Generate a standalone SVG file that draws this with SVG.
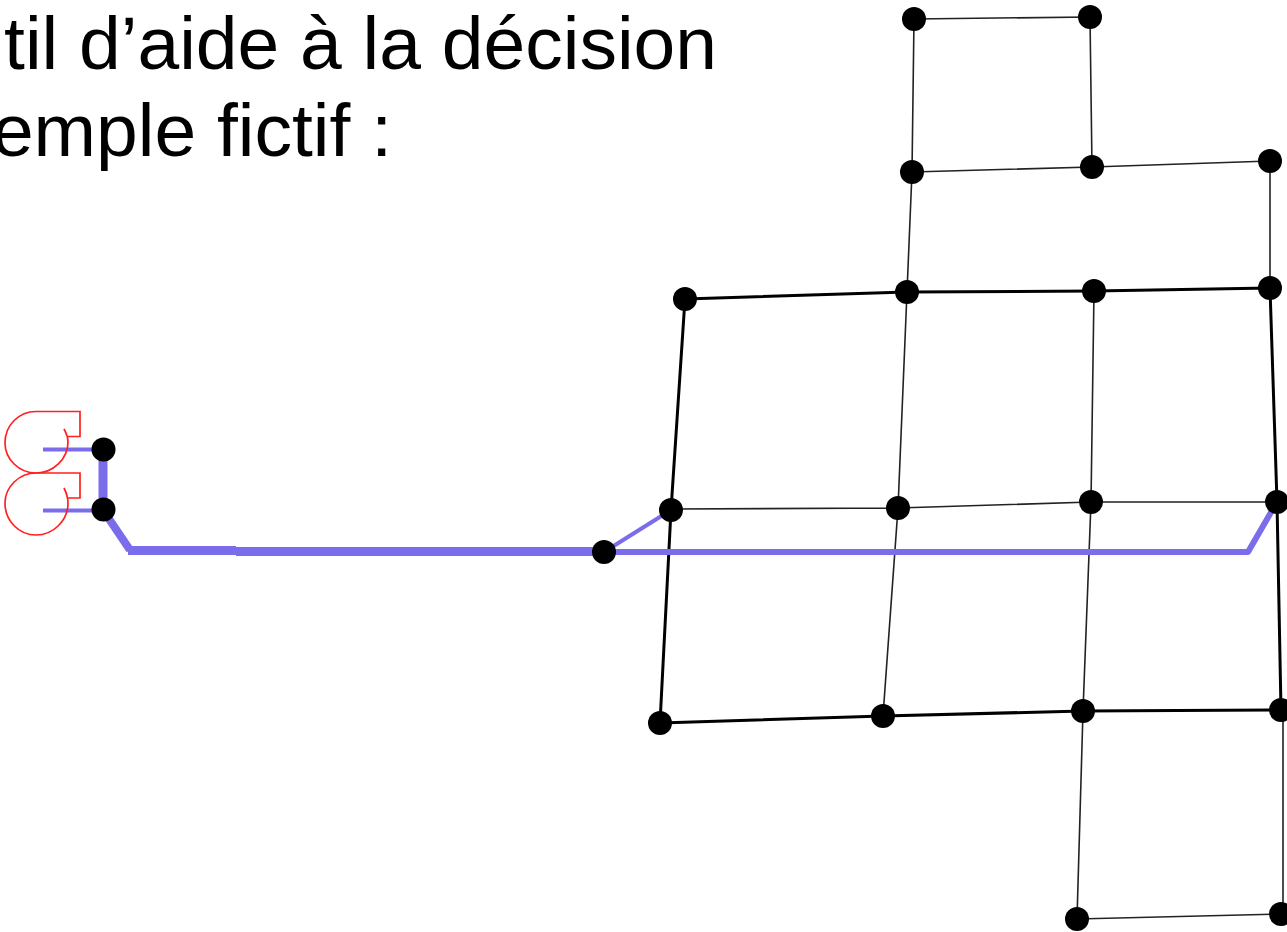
<svg xmlns="http://www.w3.org/2000/svg" width="1287" height="932" viewBox="0 0 1287 932">
<style>
.t{font-family:"Liberation Sans",Arial,sans-serif;font-size:75px;fill:#000;text-anchor:end}
.n{fill:#000}
.e1{stroke:#222;stroke-width:1.6;fill:none}
.e2{stroke:#000;stroke-width:3;fill:none}
.b{stroke:#7b6cec;fill:none;stroke-linejoin:round}
.r{stroke:#ff2020;stroke-width:1.7;fill:none}
</style>
<rect width="1287" height="932" fill="#fff"/>
<g id="title">
<text class="t" x="717" y="69">util d’aide à la décision</text>
<text class="t" x="392" y="156">emple fictif :</text>
</g>
<g id="connectors">
<path class="e1" d="M914 19L1090 17M914 19L912 172M1090 17L1092 167M912 172L1092 167L1270 161M912 172L907 292M1270 161L1270 288"/>
<path class="e2" d="M685 299L907 292L1094 291L1270 288M685 299L671 510L660 723M660 723L883 716L1083 711L1281 710M1270 288L1277 502L1281 710"/>
<path class="e1" d="M907 292L898 508L883 716M1094 291L1091 502L1083 711M671 509L898 508L1091 502L1277 502M1083 711L1077 919L1281 914M1283 710L1283 914"/>
<path class="b" stroke-width="4" d="M604 552L671 510"/>
<path class="b" stroke-width="6" d="M604 552H1248L1277 502"/>
<path class="b" stroke-width="9" d="M236 551.500H604"/>
<path class="b" stroke-width="8" d="M103 510L130 550"/>
<path class="b" stroke-width="9" d="M128 550.500H236"/>
<path class="b" stroke-width="9" d="M103 450V510"/>
<path class="b" stroke-width="4" d="M43 449.500H103M43 510.500H103"/>
</g>
<g id="loops">
<path class="r" d="M64 429C66 433 68 436 68 442C68 459 53 473 36 473C19 473 5 459 5 443C5 425 19 411.500 36 411.500H80V436.500H68"/>
<path class="r" d="M64 488C66 492 68 496 68 503C68 521 53 535 36 535C19 535 5 521 5 503C5 487 19 473 36 473H80V498H68"/>
</g>
<g id="n1"><circle class="n" cx="914" cy="19" r="12"/></g>
<g id="n2"><circle class="n" cx="1090" cy="17" r="12"/></g>
<g id="n3"><circle class="n" cx="912" cy="172" r="12"/></g>
<g id="n4"><circle class="n" cx="1092" cy="167" r="12"/></g>
<g id="n5"><circle class="n" cx="1270" cy="161" r="12"/></g>
<g id="n6"><circle class="n" cx="685" cy="299" r="12"/></g>
<g id="n7"><circle class="n" cx="907" cy="292" r="12"/></g>
<g id="n8"><circle class="n" cx="1094" cy="291" r="12"/></g>
<g id="n9"><circle class="n" cx="1270" cy="288" r="12"/></g>
<g id="n10"><circle class="n" cx="671" cy="510" r="12"/></g>
<g id="n11"><circle class="n" cx="898" cy="508" r="12"/></g>
<g id="n12"><circle class="n" cx="1091" cy="502" r="12"/></g>
<g id="n13"><circle class="n" cx="1277" cy="502" r="12"/></g>
<g id="n14"><circle class="n" cx="604" cy="552" r="12"/></g>
<g id="n15"><circle class="n" cx="660" cy="723" r="12"/></g>
<g id="n16"><circle class="n" cx="883" cy="716" r="12"/></g>
<g id="n17"><circle class="n" cx="1083" cy="711" r="12"/></g>
<g id="n18"><circle class="n" cx="1281" cy="710" r="12"/></g>
<g id="n19"><circle class="n" cx="1077" cy="919" r="12"/></g>
<g id="n20"><circle class="n" cx="1281" cy="914" r="12"/></g>
<g id="n21"><circle class="n" cx="103.500" cy="449.500" r="12"/></g>
<g id="n22"><circle class="n" cx="103.500" cy="509.500" r="12"/></g>
</svg>
